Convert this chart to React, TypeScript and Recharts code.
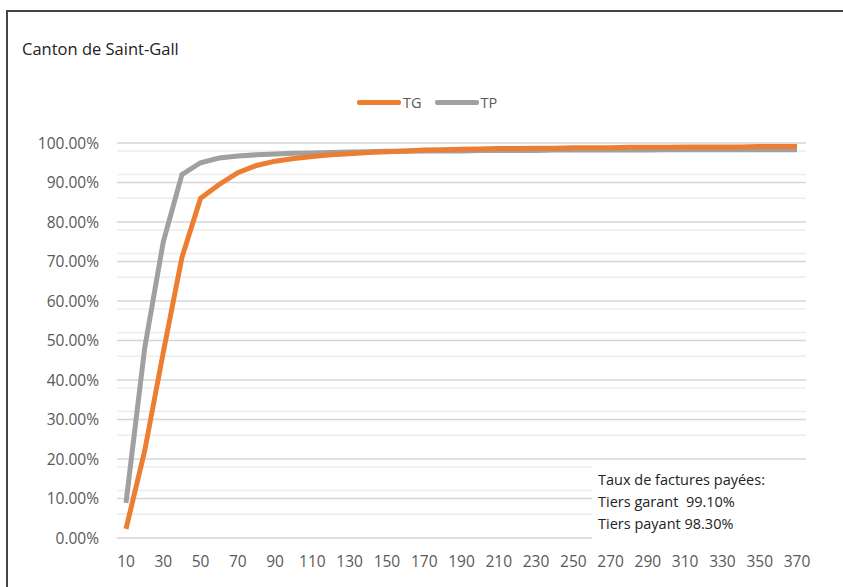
import {
  LineChart,
  Line,
  XAxis,
  YAxis,
  CartesianGrid,
} from "recharts";

const days = [
  10, 20, 30, 40, 50, 60, 70, 80, 90, 100, 110, 120, 130, 140, 150, 160, 170,
  180, 190, 200, 210, 220, 230, 240, 250, 260, 270, 280, 290, 300, 310, 320,
  330, 340, 350, 360, 370,
];

// tiers garant
const tg = [
  2.3, 22, 47, 71, 86, 89.5, 92.5, 94.3, 95.4, 96.1, 96.6, 97.0, 97.3, 97.6,
  97.8, 98.0, 98.2, 98.3, 98.4, 98.5, 98.6, 98.6, 98.7, 98.7, 98.8, 98.8, 98.8,
  98.9, 98.9, 98.9, 99.0, 99.0, 99.0, 99.0, 99.1, 99.1, 99.1,
];

// tiers payant
const tp = [
  8.9, 48, 75, 92, 95, 96.2, 96.7, 97.0, 97.2, 97.4, 97.5, 97.6, 97.7, 97.8,
  97.9, 97.9, 98.0, 98.0, 98.0, 98.1, 98.1, 98.1, 98.1, 98.2, 98.2, 98.2, 98.2,
  98.2, 98.2, 98.3, 98.3, 98.3, 98.3, 98.3, 98.3, 98.3, 98.3,
];

const majorTicks = [0, 10, 20, 30, 40, 50, 60, 70, 80, 90, 100];
const minorTicks = [
  2, 4, 6, 8, 12, 14, 16, 18, 22, 24, 26, 28, 32, 34, 36, 38, 42, 44, 46, 48,
  52, 54, 56, 58, 62, 64, 66, 68, 72, 74, 76, 78, 82, 84, 86, 88, 92, 94, 96,
  98,
];

const data = days.map((d, i) => ({ day: d, TG: tg[i], TP: tp[i] }));

const ORANGE = "#ED7D31";
const GRAY = "#A0A0A0";
const FONT = "'Open Sans', sans-serif";

const App = () => {
  return (
    <div
      style={{
        position: "absolute",
        left: 6,
        top: 10,
        width: 850,
        height: 600,
        borderLeft: "2px solid #444",
        borderTop: "2px solid #444",
        background: "#fff",
        fontFamily: FONT,
      }}
    >
      <div
        style={{
          position: "absolute",
          left: 14,
          top: 25,
          fontSize: 16.5,
          color: "#222",
        }}
      >
        Canton de Saint-Gall
      </div>

      <div
        style={{
          position: "absolute",
          top: 81,
          left: 349,
          display: "flex",
          alignItems: "center",
          fontSize: 14.5,
          color: "#595959",
        }}
      >
        <span style={{ width: 44, height: 5, background: ORANGE, borderRadius: 2 }} />
        <span style={{ marginLeft: 2, marginRight: 13 }}>TG</span>
        <span style={{ width: 44, height: 5, background: GRAY, borderRadius: 2 }} />
        <span style={{ marginLeft: 2 }}>TP</span>
      </div>

      <LineChart
        width={835}
        height={575}
        data={data}
        margin={{ top: 131, right: 37, bottom: 17, left: 0 }}
      >
        <CartesianGrid
          vertical={false}
          horizontalValues={minorTicks}
          stroke="#ececec"
          strokeWidth={1.5}
        />
        <CartesianGrid
          vertical={false}
          horizontalValues={majorTicks}
          stroke="#d6d6d6"
          strokeWidth={1.5}
        />
        <XAxis
          dataKey="day"
          interval={1}
          padding={{ left: 9, right: 9 }}
          axisLine={false}
          tickLine={false}
          tickSize={0}
          tickMargin={18}
          height={32}
          tick={{ fill: "#595959", fontSize: 15.5, fontFamily: FONT }}
        />
        <YAxis
          domain={[0, 100]}
          ticks={majorTicks}
          width={109}
          axisLine={false}
          tickLine={false}
          tickSize={0}
          tickMargin={18}
          tickFormatter={(v) => v.toFixed(2) + "%"}
          tick={{ fill: "#595959", fontSize: 15.5, fontFamily: FONT }}
        />
        <Line
          type="linear"
          dataKey="TP"
          stroke={GRAY}
          strokeWidth={5}
          dot={false}
          isAnimationActive={false}
        />
        <Line
          type="linear"
          dataKey="TG"
          stroke={ORANGE}
          strokeWidth={5}
          dot={false}
          isAnimationActive={false}
        />
      </LineChart>

      <div
        style={{
          position: "absolute",
          left: 584,
          top: 452,
          width: 216,
          height: 80,
          background: "#fff",
          padding: "5px 0 0 6px",
          boxSizing: "border-box",
          fontSize: 14.5,
          lineHeight: "22px",
          color: "#222",
        }}
      >
        Taux de factures payées:
        <br />
        Tiers garant&nbsp; 99.10%
        <br />
        Tiers payant 98.30%
      </div>
    </div>
  );
};

export default App;
